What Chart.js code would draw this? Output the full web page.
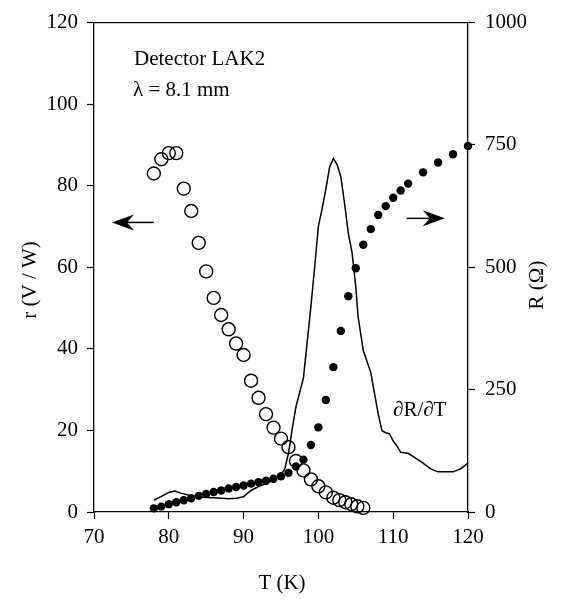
<!DOCTYPE html>
<html>
<head>
<meta charset="utf-8">
<script src="https://cdn.jsdelivr.net/npm/chart.js@4"></script>
<style>
  body { margin: 0; background: #fff; }
  canvas { display: block; }
</style>
</head>
<body>
<canvas id="LakChart" width="561" height="602"></canvas>
<script>
// responsivity r (V/W), open circles
var r_T = [78, 79, 80, 81, 82, 83, 84, 85, 86, 87, 88, 89, 90, 91, 92, 93, 94, 95, 96, 97, 98, 99, 100, 101, 102, 102.8, 103.6, 104.4, 105.2, 106]
var r_val = [83, 86.5, 88, 88, 79.3, 73.8, 66, 59, 52.5, 48.3, 44.8, 41.3, 38.5, 32.2, 28, 24, 20.7, 18, 15.9, 12.5, 10.2, 8, 6.3, 4.8, 3.5, 2.9, 2.4, 1.9, 1.4, 1.0]

// resistance R (Ohm), filled dots
var R_T = [78, 79, 80, 81, 82, 83, 84, 85, 86, 87, 88, 89, 90, 91, 92, 93, 94, 95, 96, 97, 98, 99, 100, 101, 102, 103, 104, 105, 106, 107, 108, 109, 110, 111, 112, 114, 116, 118, 120]
var R_val = [7.5, 11, 16, 20, 24, 28, 33, 37, 41, 44, 48, 51, 54, 58, 61, 64, 68, 73, 80, 93, 107, 137, 173, 229, 296, 370, 441, 498, 546, 578, 607, 625, 642, 657, 671, 694, 714, 731, 748]

// dR/dT curve (plotted against the R axis)
var d_T = [78, 79, 80, 80.8, 81.7, 83, 84, 86, 88, 89, 90, 90.5, 91, 92, 93, 94, 95, 95.5, 96, 96.5, 97, 98, 99, 99.5, 100, 100.5, 101, 101.5, 102, 102.5, 103, 103.5, 104, 104.5, 105, 105.3, 106, 107, 108, 108.5, 109, 109.5, 110, 110.5, 111, 112, 113, 114, 115, 116, 117, 118, 119, 120]
var d_val = [24, 32, 40, 43, 38, 33, 30, 29, 27, 28, 31, 38, 44, 52, 58, 65, 76, 88, 120, 170, 215, 274, 420, 500, 584, 620, 660, 705, 722, 710, 685, 630, 570, 530, 460, 400, 330, 285, 200, 166, 162, 160, 145, 135, 122, 120, 110, 100, 88, 82, 82, 82, 88, 100]

var x_ticks = [70, 80, 90, 100, 110, 120]
var r_ticks = [0, 20, 40, 60, 80, 100, 120]
var R_ticks = [0, 250, 500, 750, 1000]

function pts(xs, ys){
  var out = []
  xs.forEach((x, i) => out.push({x: x, y: ys[i]}))
  return out
}

var FONT = 'Liberation Serif, Times New Roman, serif'
var tickFont = {family: FONT, size: 21}

function axis(min, max, pos, ticks){
  return {
    type: 'linear', position: pos, min: min, max: max,
    afterBuildTicks: s => { s.ticks = ticks.map(v => ({value: v})) },
    ticks: {color: '#000', font: tickFont, padding: 9, callback: v => String(v)},
    grid: {drawOnChartArea: false, tickLength: 7, tickColor: '#000', tickWidth: 1.2},
    border: {color: '#000', width: 1.3}
  }
}

var xs = axis(70, 120, 'bottom', x_ticks)
xs.afterFit = s => { s.height = 90 }
xs.ticks.padding = 6
var ys = axis(0, 120, 'left', r_ticks)
ys.afterFit = s => { s.width = 94 }
var y2s = axis(0, 1000, 'right', R_ticks)
y2s.afterFit = s => { s.width = 93 }
y2s.ticks.padding = 10

function arrow(ctx, x1, y1, x2, y2){
  var dir = x2 > x1 ? 1 : -1
  ctx.beginPath(); ctx.moveTo(x1, y1); ctx.lineTo(x2 - dir * 12, y2); ctx.stroke()
  ctx.beginPath()
  ctx.moveTo(x2, y2)
  ctx.lineTo(x2 - dir * 22, y2 - 8)
  ctx.lineTo(x2 - dir * 15, y2)
  ctx.lineTo(x2 - dir * 22, y2 + 8)
  ctx.closePath(); ctx.fill()
}

var decor = {
  id: 'decor',
  afterDraw(chart){
    var ctx = chart.ctx, a = chart.chartArea
    var sx = chart.scales.x, sy = chart.scales.y
    ctx.save()
    ctx.strokeStyle = '#000'; ctx.fillStyle = '#000'; ctx.lineWidth = 1.3
    // top frame line
    ctx.beginPath(); ctx.moveTo(a.left, a.top); ctx.lineTo(a.right, a.top); ctx.stroke()
    // arrows pointing at each curve's axis
    ctx.lineWidth = 1.5
    arrow(ctx, sx.getPixelForValue(78), sy.getPixelForValue(71), sx.getPixelForValue(72.4), sy.getPixelForValue(71))
    arrow(ctx, sx.getPixelForValue(111.8), sy.getPixelForValue(72), sx.getPixelForValue(116.9), sy.getPixelForValue(72))
    // texts
    ctx.font = '21px ' + FONT
    ctx.textBaseline = 'alphabetic'; ctx.textAlign = 'left'
    ctx.fillText('Detector LAK2', 134, 65)
    ctx.fillText('\u03bb = 8.1 mm', 133, 96)
    ctx.fillText('\u2202R/\u2202T', 393, 416)
    // axis titles
    ctx.textAlign = 'center'; ctx.textBaseline = 'middle'
    ctx.fillText('T (K)', 282, 583)
    ctx.save(); ctx.translate(30, 280); ctx.rotate(-Math.PI / 2); ctx.fillText('r (V / W)', 0, 0); ctx.restore()
    ctx.save(); ctx.translate(537, 285); ctx.rotate(-Math.PI / 2); ctx.fillText('R (\u03a9)', 0, 0); ctx.restore()
    ctx.restore()
  }
}

var ctx = document.getElementById('LakChart')
var myChart = new Chart(ctx, {
  type: 'scatter',
  data: {
    datasets: [
      {label: 'r', data: pts(r_T, r_val), yAxisID: 'y', clip: false,
       pointRadius: 6.5, pointBackgroundColor: 'rgba(0,0,0,0)', pointBorderColor: '#000', pointBorderWidth: 1.4, showLine: false},
      {label: 'R', data: pts(R_T, R_val), yAxisID: 'y2', clip: false,
       pointRadius: 4.2, pointBackgroundColor: '#000', pointBorderColor: '#000', pointBorderWidth: 0, showLine: false},
      {label: 'dR/dT', data: pts(d_T, d_val), yAxisID: 'y2', clip: false,
       showLine: true, borderColor: '#000', borderWidth: 1.5, pointRadius: 0, tension: 0}
    ]
  },
  options: {
    responsive: false, animation: false, devicePixelRatio: 1,
    layout: {padding: {top: 18, left: 0, right: 0, bottom: 0}},
    plugins: {legend: {display: false}, tooltip: {enabled: false}},
    scales: {x: xs, y: ys, y2: y2s}
  },
  plugins: [decor]
})
</script>
</body>
</html>
